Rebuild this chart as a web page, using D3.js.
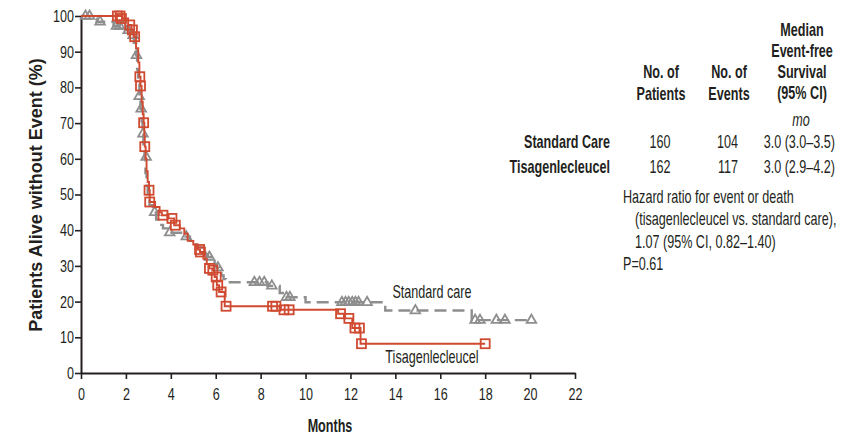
<!DOCTYPE html>
<html>
<head>
<meta charset="utf-8">
<script src="https://cdn.jsdelivr.net/npm/d3@7"></script>
<style>
  html, body { margin: 0; padding: 0; background: #fff; }
  svg { display: block; }
  text { font-family: "Liberation Sans", Arial, Helvetica, sans-serif; }
</style>
</head>
<body>
<svg id="chart" width="842" height="435"></svg>
<script>
// Kaplan–Meier step points: [month, % alive without event] (level after each time)
const standardSteps = [
  [0, 100], [0.55, 99.3], [0.7, 98.4], [1.45, 97.2], [2.0, 96.0], [2.2, 94.6], [2.35, 92.5],
  [2.45, 89], [2.5, 85], [2.55, 81], [2.6, 77.5], [2.65, 74], [2.7, 70.5], [2.74, 67],
  [2.78, 63.5], [2.83, 60], [2.87, 56], [2.92, 52.5], [2.97, 49.5], [3.05, 47], [3.2, 45],
  [3.35, 43], [3.5, 41.5], [3.65, 40.5], [3.85, 39.3], [4.55, 38.2], [4.85, 37], [5.0, 36],
  [5.15, 35.2], [5.4, 34.2], [5.55, 33.3], [5.65, 32.5], [5.85, 31.4], [5.95, 30.5],
  [6.05, 29.5], [6.15, 28.4], [6.25, 27.3], [6.35, 26.3], [6.45, 25.4], [8.3, 24.4],
  [8.85, 22.4], [9.05, 21.2], [10.0, 19.8], [13.55, 17.5], [17.4, 14.8], [20.06, 14.8]
];
const standardCensored = [
  [0.2, 100], [0.38, 100], [0.85, 98.4], [1.58, 97.2], [1.72, 97.2], [1.86, 97.2],
  [2.1, 96.0], [2.32, 94.6], [2.47, 89], [2.59, 77.5], [2.68, 74], [2.76, 67],
  [2.9, 60.5], [3.28, 45], [3.95, 39.3], [4.69, 38.2], [5.72, 32.5], [6.1, 29.5],
  [7.72, 25.4], [7.95, 25.4], [8.16, 25.4], [8.5, 24.4], [9.15, 21.2], [9.3, 21.2],
  [11.62, 19.8], [11.78, 19.8], [11.92, 19.8], [12.08, 19.8], [12.22, 19.8], [12.36, 19.8],
  [12.74, 19.8], [14.89, 17.5], [17.55, 14.8], [17.77, 14.8], [18.5, 14.8], [18.88, 14.8],
  [20.06, 14.8]
];
const tisaSteps = [
  [0, 100], [1.85, 99.3], [2.1, 97.5], [2.25, 96.1], [2.35, 94.2], [2.45, 91], [2.55, 87],
  [2.6, 83], [2.65, 80.4], [2.7, 76], [2.75, 72.5], [2.79, 70.1], [2.82, 66.5], [2.84, 63.4],
  [2.88, 60], [2.92, 56.5], [2.97, 53.5], [3.03, 51.2], [3.06, 47.9], [3.3, 46.5], [3.5, 45],
  [3.6, 44.2], [3.9, 43.3], [4.15, 41.4], [4.4, 40.5], [4.6, 39], [4.75, 37], [5.0, 36],
  [5.2, 34.6], [5.3, 33.9], [5.45, 32], [5.6, 30.5], [5.7, 29.3], [5.85, 28.8], [5.95, 26.9],
  [6.05, 24.6], [6.15, 22.7], [6.4, 18.7], [8.9, 17.7], [11.45, 16.6], [11.71, 15.3],
  [12.08, 12.6], [12.45, 8.2], [18.0, 8.2]
];
const tisaCensored = [
  [1.62, 100], [1.74, 100], [1.8, 99.3], [2.17, 97.5], [2.29, 96.1], [2.39, 94.2],
  [2.62, 83], [2.65, 80.4], [2.79, 70.1], [2.84, 63.4], [3.03, 51.2], [3.06, 47.9],
  [3.65, 44.2], [4.05, 43.3], [4.2, 41.4], [5.28, 34.6], [5.32, 33.9], [5.72, 29.3],
  [5.87, 28.8], [6.02, 26.9], [6.09, 24.6], [6.24, 22.7], [6.46, 18.7], [8.53, 18.7],
  [8.68, 18.7], [9.04, 17.7], [9.27, 17.7], [11.56, 16.6], [11.93, 15.3], [12.2, 12.6],
  [12.4, 12.6], [12.49, 8.2], [18.0, 8.2]
];

const xTicks = [0, 2, 4, 6, 8, 10, 12, 14, 16, 18, 20, 22];
const yTicks = [0, 10, 20, 30, 40, 50, 60, 70, 80, 90, 100];

// Summary table
const tableGroups = ["Standard Care", "Tisagenlecleucel"];
const tablePatients = ["160", "162"];
const tableEvents = ["104", "117"];
const tableMedian = ["3.0 (3.0–3.5)", "3.0 (2.9–4.2)"];
const hazardLines = [
  "Hazard ratio for event or death",
  "(tisagenlecleucel vs. standard care),",
  "1.07 (95% CI, 0.82–1.40)",
  "P=0.61"
];

const RED = "#cf4a30";
const GRAY = "#8e8e8e";
const INK = "#231f20";
const NARROW = 0.70;   // horizontal squeeze for the condensed lettering

const svg = d3.select("#chart");
const x = d3.scaleLinear().domain([0, 22]).range([81, 575]);
const y = d3.scaleLinear().domain([0, 100]).range([373, 16]);

// condensed text: Arial-metric glyphs squeezed horizontally around the anchor point
function ctext(parent, px, py, str, opts = {}) {
  return parent.append("text")
    .attr("transform", `translate(${px},${py}) scale(${opts.k || NARROW},1)`)
    .attr("text-anchor", opts.anchor || "start")
    .attr("font-weight", opts.weight || "normal")
    .attr("font-style", opts.style || "normal")
    .style("font-size", (opts.size || 18) + "px")
    .attr("fill", INK)
    .text(str);
}

// axes
const TK = 0.74;
const yAxis = svg.append("g")
  .attr("transform", `translate(${x(0)},0)`)
  .call(d3.axisLeft(y).tickValues(yTicks).tickSize(6).tickSizeOuter(0).tickPadding(1));
yAxis.selectAll(".tick text")
  .attr("x", -7 / TK).attr("transform", `scale(${TK},1)`);
const xAxis = svg.append("g")
  .attr("transform", `translate(0,${y(0)})`)
  .call(d3.axisBottom(x).tickValues(xTicks).tickSize(6).tickSizeOuter(0).tickPadding(9));
xAxis.selectAll(".tick text").attr("transform", `scale(${TK},1)`);
[yAxis, xAxis].forEach(g => {
  g.attr("font-family", null).attr("font-size", null);
  g.select(".domain").attr("stroke", INK).attr("stroke-width", 2);
  g.selectAll(".tick line").attr("stroke", INK).attr("stroke-width", 1.6);
  g.selectAll(".tick text").attr("fill", INK).style("font-size", "17px");
});

svg.append("text")
  .attr("transform", `translate(42,195) rotate(-90)`)
  .attr("text-anchor", "middle")
  .attr("font-weight", "bold")
  .style("font-size", "18px").attr("fill", INK)
  .text("Patients Alive without Event (%)");
ctext(svg, 330, 432, "Months", { anchor: "middle", weight: "bold" });

const step = d3.line().x(d => x(d[0])).y(d => y(d[1])).curve(d3.curveStepAfter);

// standard care: dashed gray curve with triangle censor marks
svg.append("path").datum(standardSteps)
  .attr("d", step).attr("fill", "none")
  .attr("stroke", GRAY).attr("stroke-width", 2.4)
  .attr("stroke-dasharray", "12,6");
const tri = d3.symbol().type(d3.symbolTriangle).size(40);
svg.append("g").selectAll("path").data(standardCensored).join("path")
  .attr("d", tri)
  .attr("transform", d => `translate(${x(d[0])},${y(d[1])})`)
  .attr("fill", "none").attr("stroke", GRAY).attr("stroke-width", 1.8);

// tisagenlecleucel: solid red curve with square censor marks
svg.append("path").datum(tisaSteps)
  .attr("d", step).attr("fill", "none")
  .attr("stroke", RED).attr("stroke-width", 1.9);
svg.append("g").selectAll("rect").data(tisaCensored).join("rect")
  .attr("x", d => x(d[0]) - 4.5).attr("y", d => y(d[1]) - 4.5)
  .attr("width", 9).attr("height", 9)
  .attr("fill", "none").attr("stroke", RED).attr("stroke-width", 1.8);

// curve labels
ctext(svg, 432, 298, "Standard care", { anchor: "middle" });
ctext(svg, 432, 363, "Tisagenlecleucel", { anchor: "middle" });

// table
const tbl = svg.append("g");
const hdr = (cx, lines, base) => lines.forEach((t, i) =>
  ctext(tbl, cx, base + i * 21.3, t, { anchor: "middle", weight: "bold" }));
hdr(661, ["No. of", "Patients"], 78.3);
hdr(729, ["No. of", "Events"], 78.3);
hdr(802, ["Median", "Event-free", "Survival", "(95% CI)"], 35.5);
ctext(tbl, 801, 126, "mo", { anchor: "middle", style: "italic" });
tableGroups.forEach((g, i) => {
  const by = 147.7 + i * 25;
  ctext(tbl, 610, by, g, { anchor: "end", weight: "bold" });
  ctext(tbl, 660, by, tablePatients[i], { anchor: "middle" });
  ctext(tbl, 738, by, tableEvents[i], { anchor: "end" });
  ctext(tbl, 835, by, tableMedian[i], { anchor: "end" });
});
hazardLines.forEach((t, i) => {
  ctext(tbl, (i === 1 || i === 2) ? 635 : 623, 203 + i * 22.3, t);
});
</script>
</body>
</html>
